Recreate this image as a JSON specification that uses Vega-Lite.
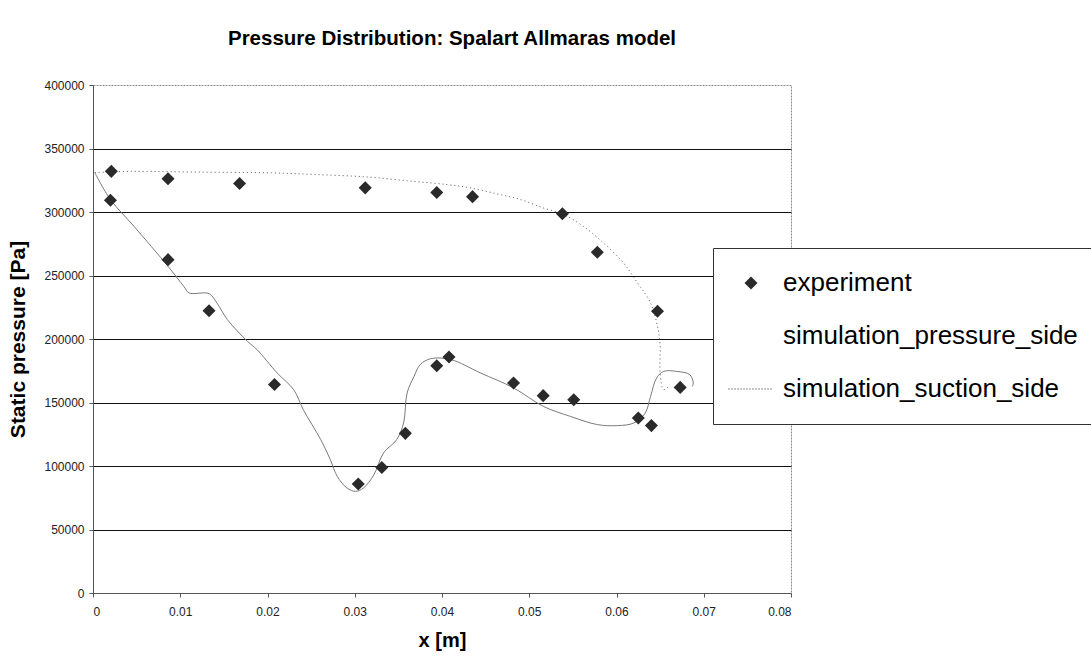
{
  "$schema": "https://vega.github.io/schema/vega-lite/v6.json",
  "autosize": "none",
  "width": 698,
  "height": 508,
  "padding": {"left": 93, "top": 85, "right": 300, "bottom": 65},
  "background": "white",
  "config": {
    "font": "Liberation Sans",
    "view": {"stroke": "#8a8a8a", "strokeWidth": 1, "strokeDash": [2, 1]},
    "axis": {
      "labelFont": "Liberation Sans",
      "titleFont": "Liberation Sans",
      "labelColor": "#222",
      "titleColor": "#000",
      "domainColor": "#555",
      "tickColor": "#555",
      "tickSize": 4,
      "labelFontSize": 12,
      "titleFontSize": 21,
      "titleFontWeight": "bold"
    }
  },
  "title": {
    "text": "Pressure Distribution: Spalart Allmaras model",
    "font": "Liberation Sans",
    "fontSize": 20.5,
    "fontWeight": "bold",
    "color": "#000",
    "anchor": "middle",
    "dx": 10,
    "offset": 30
  },
  "datasets": {
    "experiment": [
      {"x": 0.0021, "p": 332000, "series": "experiment"},
      {"x": 0.0020, "p": 309200, "series": "experiment"},
      {"x": 0.0086, "p": 326100, "series": "experiment"},
      {"x": 0.0086, "p": 262500, "series": "experiment"},
      {"x": 0.0168, "p": 322400, "series": "experiment"},
      {"x": 0.0312, "p": 319000, "series": "experiment"},
      {"x": 0.0133, "p": 222300, "series": "experiment"},
      {"x": 0.0208, "p": 164100, "series": "experiment"},
      {"x": 0.0304, "p": 85800, "series": "experiment"},
      {"x": 0.0331, "p": 98900, "series": "experiment"},
      {"x": 0.0358, "p": 125700, "series": "experiment"},
      {"x": 0.0394, "p": 315300, "series": "experiment"},
      {"x": 0.0435, "p": 312100, "series": "experiment"},
      {"x": 0.0538, "p": 298700, "series": "experiment"},
      {"x": 0.0578, "p": 268300, "series": "experiment"},
      {"x": 0.0647, "p": 221800, "series": "experiment"},
      {"x": 0.0394, "p": 179000, "series": "experiment"},
      {"x": 0.0408, "p": 185900, "series": "experiment"},
      {"x": 0.0482, "p": 165400, "series": "experiment"},
      {"x": 0.0516, "p": 155400, "series": "experiment"},
      {"x": 0.0551, "p": 152200, "series": "experiment"},
      {"x": 0.0625, "p": 137800, "series": "experiment"},
      {"x": 0.0640, "p": 131800, "series": "experiment"},
      {"x": 0.0673, "p": 161900, "series": "experiment"}
    ],
    "pressure": [
      {"i": 1, "x": 0.0002, "p": 331000},
      {"i": 2, "x": 0.0020, "p": 309800},
      {"i": 3, "x": 0.0047, "p": 288700},
      {"i": 4, "x": 0.0086, "p": 257200},
      {"i": 5, "x": 0.0104, "p": 241500},
      {"i": 6, "x": 0.0110, "p": 236300},
      {"i": 7, "x": 0.0133, "p": 235700},
      {"i": 8, "x": 0.0142, "p": 228400},
      {"i": 9, "x": 0.0154, "p": 215300},
      {"i": 10, "x": 0.0177, "p": 198200},
      {"i": 11, "x": 0.0188, "p": 191600},
      {"i": 12, "x": 0.0211, "p": 173300},
      {"i": 13, "x": 0.0230, "p": 160100},
      {"i": 14, "x": 0.0241, "p": 144400},
      {"i": 15, "x": 0.0261, "p": 120800},
      {"i": 16, "x": 0.0272, "p": 105000},
      {"i": 17, "x": 0.0280, "p": 91800},
      {"i": 18, "x": 0.0291, "p": 82700},
      {"i": 19, "x": 0.0301, "p": 80000},
      {"i": 20, "x": 0.0310, "p": 82700},
      {"i": 21, "x": 0.0322, "p": 93200},
      {"i": 22, "x": 0.0333, "p": 110300},
      {"i": 23, "x": 0.0348, "p": 120700},
      {"i": 24, "x": 0.0356, "p": 133900},
      {"i": 25, "x": 0.0360, "p": 157500},
      {"i": 26, "x": 0.0368, "p": 170600},
      {"i": 27, "x": 0.0375, "p": 179800},
      {"i": 28, "x": 0.0387, "p": 184500},
      {"i": 29, "x": 0.0410, "p": 183800},
      {"i": 30, "x": 0.0444, "p": 173300},
      {"i": 31, "x": 0.0482, "p": 161500},
      {"i": 32, "x": 0.0516, "p": 147000},
      {"i": 33, "x": 0.0547, "p": 139100},
      {"i": 34, "x": 0.0578, "p": 132600},
      {"i": 35, "x": 0.0601, "p": 131800},
      {"i": 36, "x": 0.0620, "p": 133900},
      {"i": 37, "x": 0.0633, "p": 141800},
      {"i": 38, "x": 0.0639, "p": 154800},
      {"i": 39, "x": 0.0646, "p": 169300},
      {"i": 40, "x": 0.0654, "p": 174500},
      {"i": 41, "x": 0.0669, "p": 174500},
      {"i": 42, "x": 0.0684, "p": 171900},
      {"i": 43, "x": 0.0688, "p": 165400},
      {"i": 44, "x": 0.0687, "p": 162700}
    ],
    "suction": [
      {"i": 1, "x": 0.0002, "p": 331000},
      {"i": 2, "x": 0.0039, "p": 332000},
      {"i": 3, "x": 0.0054, "p": 332000},
      {"i": 4, "x": 0.0123, "p": 331400},
      {"i": 5, "x": 0.0205, "p": 330800},
      {"i": 6, "x": 0.0255, "p": 329500},
      {"i": 7, "x": 0.0314, "p": 327600},
      {"i": 8, "x": 0.0366, "p": 324200},
      {"i": 9, "x": 0.0406, "p": 321600},
      {"i": 10, "x": 0.0432, "p": 319000},
      {"i": 11, "x": 0.0463, "p": 314300},
      {"i": 12, "x": 0.0490, "p": 309800},
      {"i": 13, "x": 0.0516, "p": 303200},
      {"i": 14, "x": 0.0538, "p": 298500},
      {"i": 15, "x": 0.0562, "p": 288700},
      {"i": 16, "x": 0.0585, "p": 275700},
      {"i": 17, "x": 0.0608, "p": 259900},
      {"i": 18, "x": 0.0624, "p": 244200},
      {"i": 19, "x": 0.0639, "p": 228400},
      {"i": 20, "x": 0.0647, "p": 210000},
      {"i": 21, "x": 0.0650, "p": 195600},
      {"i": 22, "x": 0.0650, "p": 173300},
      {"i": 23, "x": 0.0654, "p": 160100},
      {"i": 24, "x": 0.0660, "p": 162900}
    ]
  },
  "encoding": {
    "x": {
      "field": "x",
      "type": "quantitative",
      "scale": {"domain": [0, 0.08], "nice": false, "zero": false},
      "axis": {
        "title": "x [m]",
        "values": [0, 0.01, 0.02, 0.03, 0.04, 0.05, 0.06, 0.07, 0.08],
        "format": "~g",
        "grid": false,
        "labelPadding": 9,
        "titleFontSize": 20,
        "titlePadding": 13
      }
    },
    "y": {
      "field": "p",
      "type": "quantitative",
      "scale": {"domain": [0, 400000], "nice": false},
      "axis": {
        "title": "Static pressure [Pa]",
        "values": [0, 50000, 100000, 150000, 200000, 250000, 300000, 350000, 400000],
        "format": "d",
        "grid": true,
        "gridColor": {"condition": {"test": "datum.value === 0 || datum.value === 400000", "value": "transparent"}, "value": "#111"},
        "gridWidth": 1.2,
        "labelPadding": 5,
        "titlePadding": 15
      }
    }
  },
  "layer": [
    {
      "data": {"name": "pressure"},
      "mark": {"type": "line", "color": "#7a7a7a", "strokeWidth": 1, "interpolate": "catmull-rom"},
      "encoding": {"order": {"field": "i", "type": "quantitative"}}
    },
    {
      "data": {"name": "suction"},
      "mark": {"type": "line", "color": "#555", "strokeWidth": 1, "strokeDash": [1, 3], "interpolate": "catmull-rom"},
      "encoding": {"order": {"field": "i", "type": "quantitative"}}
    },
    {
      "data": {"name": "experiment"},
      "mark": {"type": "point", "filled": true, "color": "#2a2a2a", "opacity": 1, "size": 170},
      "encoding": {
        "shape": {
          "field": "series",
          "type": "nominal",
          "scale": {
            "domain": ["experiment", "simulation_pressure_side", "simulation_suction_side"],
            "range": [
              "diamond",
              "M0,0",
              "M-3.45,-0.08h0.16v0.16h-0.16Z M-2.99,-0.08h0.16v0.16h-0.16Z M-2.53,-0.08h0.16v0.16h-0.16Z M-2.07,-0.08h0.16v0.16h-0.16Z M-1.61,-0.08h0.16v0.16h-0.16Z M-1.15,-0.08h0.16v0.16h-0.16Z M-0.69,-0.08h0.16v0.16h-0.16Z M-0.23,-0.08h0.16v0.16h-0.16Z M0.23,-0.08h0.16v0.16h-0.16Z M0.69,-0.08h0.16v0.16h-0.16Z M1.15,-0.08h0.16v0.16h-0.16Z M1.61,-0.08h0.16v0.16h-0.16Z M2.07,-0.08h0.16v0.16h-0.16Z M2.53,-0.08h0.16v0.16h-0.16Z M2.99,-0.08h0.16v0.16h-0.16Z"
            ]
          },
          "legend": {
            "title": null,
            "orient": "none",
            "legendX": 620,
            "legendY": 163,
            "padding": 22,
            "strokeColor": "#333",
            "fillColor": "white",
            "symbolSize": 170,
            "symbolOffset": 3,
            "symbolFillColor": "#2a2a2a",
            "symbolStrokeWidth": 0,
            "labelFont": "Liberation Sans",
            "labelFontSize": 26,
            "labelColor": "#000",
            "labelOffset": 19,
            "labelLimit": 400,
            "rowPadding": 27,
            "encode": {"legend": {"update": {"strokeWidth": {"value": 1.5}}}}
          }
        }
      }
    }
  ]
}
